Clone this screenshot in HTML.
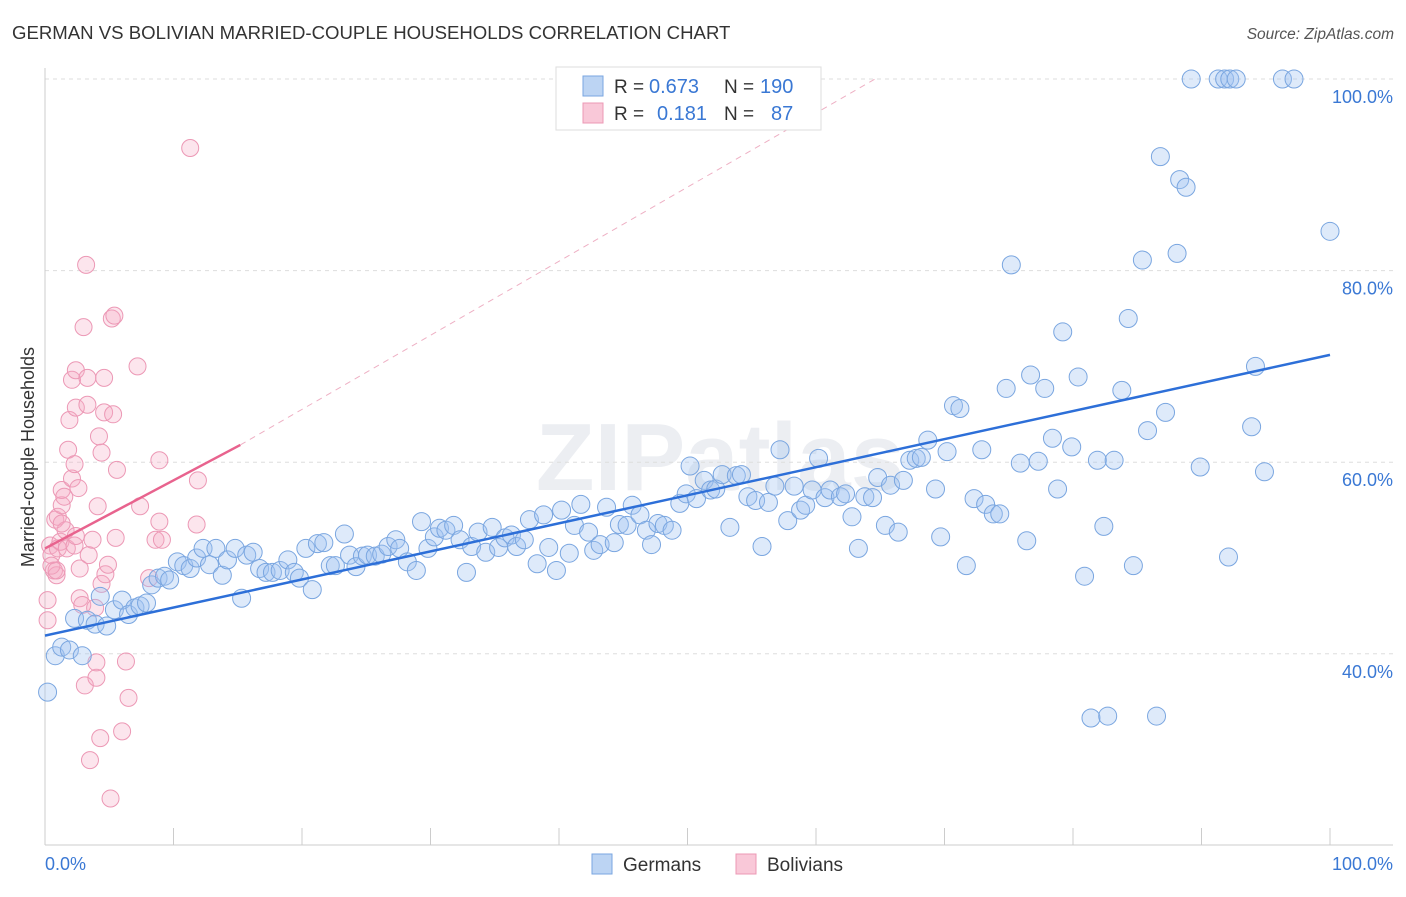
<!DOCTYPE html>
<html><head><meta charset="utf-8"><style>
body{margin:0;background:#fff;font-family:"Liberation Sans",sans-serif}
svg text{font-family:"Liberation Sans",sans-serif}
</style></head><body>
<svg id="c" width="1406" height="892">
<text x="12" y="39" font-size="18.6" fill="#333">GERMAN VS BOLIVIAN MARRIED-COUPLE HOUSEHOLDS CORRELATION CHART</text>
<text x="1394" y="39" font-size="15.5" fill="#555" font-style="italic" text-anchor="end">Source: ZipAtlas.com</text>
<text x="720" y="490" font-size="96" fill="#eceef2" text-anchor="middle" font-family="Liberation Serif" font-weight="bold">ZIPatlas</text>
<g id="grid"></g><g id="axes"></g><g id="pink"></g><g id="blue"></g><g id="trend"></g>
<text transform="translate(34,457) rotate(-90)" font-size="18" fill="#333" text-anchor="middle">Married-couple Households</text>
<g>
<rect x="556" y="67" width="265" height="63" fill="#fff" stroke="#ddd"/>
<rect x="583" y="76" width="20" height="20" fill="#bcd4f3" stroke="#7aa6e0"/>
<rect x="583" y="103" width="20" height="20" fill="#f9c8d8" stroke="#ec98b5"/>
<text x="614" y="93" font-size="19" fill="#333">R =</text>
<text x="649" y="93" font-size="20" fill="#3a78d4">0.673</text>
<text x="724" y="93" font-size="19" fill="#333">N =</text>
<text x="760" y="93" font-size="20" fill="#3a78d4">190</text>
<text x="614" y="120" font-size="19" fill="#333">R =</text>
<text x="657" y="120" font-size="20" fill="#3a78d4">0.181</text>
<text x="724" y="120" font-size="19" fill="#333">N =</text>
<text x="771" y="120" font-size="20" fill="#3a78d4">87</text>
</g>
<g>
<rect x="592" y="854" width="20" height="20" fill="#bcd4f3" stroke="#7aa6e0"/>
<text x="623" y="871" font-size="19" fill="#333">Germans</text>
<rect x="736" y="854" width="20" height="20" fill="#f9c8d8" stroke="#ec98b5"/>
<text x="767" y="871" font-size="19" fill="#333">Bolivians</text>
</g>
</svg>
<script>
const blueX=[0.2,0.8,1.3,1.9,2.9,2.3,3.3,3.9,4.8,4.3,5.4,6.0,6.5,7.0,7.4,7.9,8.3,8.8,9.3,9.7,10.3,10.8,11.3,11.8,12.3,12.8,13.3,13.8,14.2,14.8,15.3,15.7,16.2,16.7,17.2,17.7,18.3,18.9,19.4,19.8,20.3,20.8,21.2,21.7,22.2,22.6,23.3,23.7,24.2,24.7,25.1,25.7,26.2,26.7,27.3,27.6,28.2,28.9,29.3,29.8,30.3,30.7,31.2,31.8,32.3,32.8,33.2,33.7,34.3,34.8,35.3,35.8,36.3,36.7,37.3,37.7,38.3,38.8,39.2,39.8,40.2,40.8,41.2,41.7,42.3,42.7,43.2,43.7,44.3,44.7,45.3,45.7,46.3,46.8,47.2,47.7,48.2,48.8,49.4,49.9,50.2,50.7,51.3,51.8,52.2,52.7,53.3,53.8,54.2,54.7,55.3,55.8,56.3,56.8,57.2,57.8,58.3,58.8,59.2,59.7,60.2,60.7,61.1,61.9,62.3,62.8,63.3,63.8,64.4,64.8,65.4,65.8,66.4,66.8,67.3,67.8,68.2,68.7,69.3,69.7,70.2,70.7,71.2,71.7,72.3,72.9,73.2,73.8,74.3,74.8,75.2,75.9,76.4,76.7,77.3,77.8,78.4,78.8,79.2,79.9,80.4,80.9,81.4,81.9,82.4,82.7,83.2,83.8,84.3,84.7,85.4,85.8,86.5,86.8,87.2,88.1,88.3,88.8,89.2,89.9,91.3,91.8,92.2,92.7,92.1,93.9,94.2,94.9,96.3,97.2,100];
const blueY=[36.0,39.8,40.7,40.4,39.8,43.7,43.5,43.1,42.9,46.0,44.6,45.6,44.1,44.8,45.0,45.3,47.2,47.9,48.1,47.7,49.6,49.2,48.9,50.0,51.0,49.3,51.0,48.2,49.8,51.0,45.8,50.3,50.6,48.9,48.5,48.5,48.7,49.8,48.5,47.9,51.0,46.7,51.5,51.6,49.2,49.2,52.5,50.3,49.1,50.2,50.3,50.2,50.4,51.2,51.9,51.0,49.6,48.7,53.8,51.0,52.2,53.1,52.9,53.4,51.9,48.5,51.2,52.7,50.6,53.2,51.1,52.1,52.4,51.2,51.9,54.0,49.4,54.5,51.1,48.7,55.0,50.5,53.4,55.6,52.7,50.8,51.4,55.3,51.6,53.5,53.4,55.5,54.5,52.9,51.4,53.6,53.4,52.9,55.7,56.7,59.6,56.2,58.1,57.1,57.2,58.7,53.2,58.6,58.7,56.4,56.0,51.2,55.8,57.5,61.3,53.9,57.5,55.0,55.5,57.1,60.4,56.3,57.1,56.4,56.7,54.3,51.0,56.4,56.3,58.4,53.4,57.6,52.7,58.1,60.2,60.4,60.5,62.3,57.2,52.2,61.1,65.9,65.6,49.2,56.2,61.3,55.6,54.6,54.6,67.7,80.6,59.9,51.8,69.1,60.1,67.7,62.5,57.2,73.6,61.6,68.9,48.1,33.3,60.2,53.3,33.5,60.2,67.5,75.0,49.2,81.1,63.3,33.5,91.9,65.2,81.8,89.5,88.7,100,59.5,100,100,100,100,50.1,63.7,70.0,59.0,100,100,84.1];
const pinkX=[0.2,0.2,0.4,0.5,0.7,0.9,1.0,0.8,1.0,1.2,1.3,1.3,1.5,1.6,1.7,1.8,1.9,2.1,2.1,2.3,2.3,2.4,2.4,2.6,2.7,2.7,2.9,3.0,3.1,3.2,3.3,3.3,3.4,3.5,3.7,3.9,4.0,4.0,4.1,4.2,4.3,4.4,4.4,4.6,4.6,4.7,4.9,5.1,5.2,5.3,5.4,5.5,5.6,6.0,6.3,6.5,7.2,7.4,8.1,8.6,8.9,8.9,9.1,11.3,11.8,11.9,2.4,1.3,0.5,0.9];
const pinkY=[45.6,43.5,51.3,50.3,48.7,48.2,51.0,54.0,54.3,51.7,55.5,57.1,56.4,52.9,51.0,61.3,64.4,68.6,58.3,59.8,51.3,65.7,69.6,57.3,48.9,45.8,45.1,74.1,36.7,80.6,66.0,68.8,50.3,28.9,51.9,44.8,37.5,39.1,55.4,62.7,31.2,61.0,47.3,65.2,68.8,48.3,49.3,24.9,75.0,65.0,75.3,52.1,59.2,31.9,39.2,35.4,70.0,55.4,47.9,51.9,53.8,60.2,51.9,92.8,53.5,58.1,52.3,53.6,49.2,48.7];
const blueTrendX=[0,100], blueTrendY=[41.9,71.2];
const pinkTrendX=[0,15.2,64.6], pinkTrendY=[51.0,61.8,100];
const yTicks=[40,60,80,100], yTickLabels=["40.0%","60.0%","80.0%","100.0%"];
const xTicks=[0,10,20,30,40,50,60,70,80,90,100];
const X=v=>45+v*12.85, Y=v=>79+(100-v)*9.58;
const NS="http://www.w3.org/2000/svg";
function mk(parent,tag,attrs){const e=document.createElementNS(NS,tag);for(const k in attrs)e.setAttribute(k,attrs[k]);document.getElementById(parent).appendChild(e);return e;}
yTicks.forEach((t,i)=>{
 const l=mk('grid','line',{x1:45,x2:1393,y1:Y(t),y2:Y(t),stroke:'#ddd','stroke-dasharray':'4,4'});
 
 
 const tx=mk('grid','text',{x:1393,y:Y(t)+24,'font-size':18,fill:'#3a78d4','text-anchor':'end'});
 tx.textContent=yTickLabels[i];
 
 
});
const ax=mk('axes','line',{x1:45,x2:45,y1:68,y2:845,stroke:'#ccc'});


const bx=mk('axes','line',{x1:45,x2:1393,y1:845,y2:845,stroke:'#ccc'});


xTicks.forEach(t=>{
 const l=mk('axes','line',{x1:X(t),x2:X(t),y1:828,y2:845,stroke:'#ccc'});
 
 
});
const x0=mk('axes','text',{x:45,y:870,'font-size':18,fill:'#3a78d4'});x0.textContent='0.0%';


const x1=mk('axes','text',{x:1393,y:870,'font-size':18,fill:'#3a78d4','text-anchor':'end'});x1.textContent='100.0%';


pinkX.forEach((v,i)=>{
 const c=mk('pink','circle',{cx:X(v),cy:Y(pinkY[i]),r:8.5,fill:'rgba(244,170,196,0.3)',stroke:'#ec98b5','stroke-width':1});
 
 
});
blueX.forEach((v,i)=>{
 const c=mk('blue','circle',{cx:X(v),cy:Y(blueY[i]),r:9,fill:'rgba(160,196,240,0.35)',stroke:'#7aa6e0','stroke-width':1});
 
 
});
const bt=mk('trend','line',{x1:X(blueTrendX[0]),y1:Y(blueTrendY[0]),x2:X(blueTrendX[1]),y2:Y(blueTrendY[1]),stroke:'#2d6fd8','stroke-width':2.5});


const pt=mk('trend','line',{x1:X(pinkTrendX[0]),y1:Y(pinkTrendY[0]),x2:X(pinkTrendX[1]),y2:Y(pinkTrendY[1]),stroke:'#e8638e','stroke-width':2.5});


const pd=mk('trend','line',{x1:X(pinkTrendX[1]),y1:Y(pinkTrendY[1]),x2:X(pinkTrendX[2]),y2:Y(pinkTrendY[2]),stroke:'#eeb0c4','stroke-width':1,'stroke-dasharray':'6,5'});


</script>
</body></html>
